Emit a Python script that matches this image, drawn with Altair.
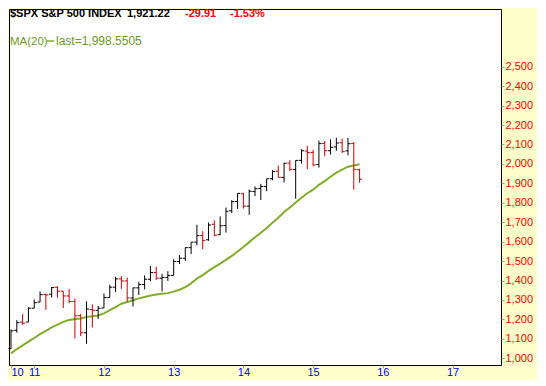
import altair as alt
import pandas as pd

# Monthly S&P 500 bars, Sep 2010 .. Sep 2015 (last bar partial)
months = [
    "2010-09", "2010-10", "2010-11", "2010-12",
    "2011-01", "2011-02", "2011-03", "2011-04", "2011-05", "2011-06",
    "2011-07", "2011-08", "2011-09", "2011-10", "2011-11", "2011-12",
    "2012-01", "2012-02", "2012-03", "2012-04", "2012-05", "2012-06",
    "2012-07", "2012-08", "2012-09", "2012-10", "2012-11", "2012-12",
    "2013-01", "2013-02", "2013-03", "2013-04", "2013-05", "2013-06",
    "2013-07", "2013-08", "2013-09", "2013-10", "2013-11", "2013-12",
    "2014-01", "2014-02", "2014-03", "2014-04", "2014-05", "2014-06",
    "2014-07", "2014-08", "2014-09", "2014-10", "2014-11", "2014-12",
    "2015-01", "2015-02", "2015-03", "2015-04", "2015-05", "2015-06",
    "2015-07", "2015-08", "2015-09",
]
opens = [
    1049.72, 1143.49, 1185.71, 1186.60,
    1257.62, 1289.14, 1328.64, 1329.48, 1365.21, 1345.20,
    1320.64, 1292.59, 1219.12, 1131.21, 1251.00, 1246.91,
    1258.86, 1312.45, 1365.90, 1408.47, 1397.86, 1309.87,
    1362.33, 1379.32, 1406.54, 1440.90, 1412.20, 1416.18,
    1426.19, 1498.11, 1514.68, 1569.18, 1597.55, 1631.71,
    1609.78, 1689.42, 1635.95, 1682.41, 1758.70, 1806.55,
    1845.86, 1782.68, 1857.68, 1873.96, 1884.39, 1923.87,
    1962.29, 1929.80, 2004.07, 1971.44, 2018.21, 2065.78,
    2058.90, 1996.67, 2105.23, 2067.63, 2087.38, 2108.64,
    2067.00, 2104.49, 1970.09,
]
highs = [
    1148.90, 1196.14, 1227.08, 1262.60,
    1302.67, 1344.07, 1332.28, 1366.61, 1370.58, 1345.20,
    1356.48, 1307.38, 1229.29, 1292.66, 1277.55, 1269.37,
    1333.47, 1378.04, 1419.15, 1422.38, 1415.32, 1363.46,
    1391.74, 1426.68, 1474.51, 1470.96, 1434.27, 1448.00,
    1509.94, 1530.94, 1570.28, 1597.57, 1687.18, 1654.19,
    1698.78, 1709.67, 1729.86, 1775.22, 1813.55, 1849.44,
    1850.84, 1867.92, 1883.97, 1897.28, 1924.03, 1968.17,
    1991.39, 2005.04, 2019.26, 2018.19, 2075.76, 2093.55,
    2072.36, 2119.59, 2117.52, 2125.92, 2134.72, 2129.87,
    2132.82, 2112.66, 1975.01,
]
lows = [
    1048.08, 1131.87, 1173.00, 1186.60,
    1257.62, 1289.14, 1249.05, 1312.70, 1311.80, 1258.07,
    1282.86, 1101.54, 1114.22, 1074.77, 1158.66, 1202.37,
    1258.86, 1312.45, 1340.03, 1357.38, 1291.98, 1266.74,
    1325.41, 1354.65, 1396.56, 1403.28, 1343.35, 1398.11,
    1426.19, 1485.01, 1501.48, 1536.03, 1581.28, 1560.33,
    1604.57, 1627.47, 1633.41, 1646.47, 1746.20, 1767.99,
    1770.45, 1737.92, 1834.44, 1814.36, 1859.79, 1915.98,
    1930.67, 1904.78, 1964.04, 1820.66, 2001.01, 1972.56,
    1988.12, 1980.90, 2039.69, 2048.38, 2067.93, 2056.32,
    2044.02, 1867.01, 1903.07,
]
closes = [
    1141.20, 1183.26, 1180.55, 1257.64,
    1286.12, 1327.22, 1325.83, 1363.61, 1345.20, 1320.64,
    1292.28, 1218.89, 1131.42, 1253.30, 1246.96, 1257.60,
    1312.41, 1365.68, 1408.47, 1397.91, 1310.33, 1362.16,
    1379.32, 1406.58, 1440.67, 1412.16, 1416.18, 1426.19,
    1498.11, 1514.68, 1569.19, 1597.57, 1630.74, 1606.28,
    1685.73, 1632.97, 1681.55, 1756.54, 1805.81, 1848.36,
    1782.59, 1859.45, 1872.34, 1883.95, 1923.57, 1960.23,
    1930.67, 2003.37, 1972.29, 2018.05, 2067.56, 2058.90,
    1994.99, 2104.50, 2067.89, 2085.51, 2107.39, 2063.11,
    2103.84, 1972.18, 1921.22,
]
ma20 = [
    1025.15, 1047.56, 1066.69, 1085.93,
    1104.28, 1124.68, 1141.60, 1158.75, 1173.15, 1187.37,
    1197.21, 1202.40, 1205.27, 1212.71, 1216.59, 1220.14,
    1231.29, 1248.03, 1263.38, 1280.81, 1289.26, 1298.21,
    1308.15, 1315.59, 1323.32, 1327.57, 1332.09, 1335.21,
    1342.86, 1352.56, 1366.41, 1385.34, 1410.31, 1427.96,
    1449.90, 1468.66, 1487.12, 1506.66, 1526.53, 1549.05,
    1572.67, 1597.53, 1622.18, 1646.05, 1670.20, 1697.60,
    1723.32, 1752.18, 1775.89, 1801.06, 1825.98, 1849.04,
    1867.26, 1892.17, 1911.28, 1933.90, 1955.20, 1970.52,
    1985.43, 1991.62, 1998.55,
]
year_tick_idx = [0, 4, 16, 28, 40, 52, 64, 76]
year_labels = ["10", "11", "12", "13", "14", "15", "16", "17"]
price_ticks = list(range(1000, 2501, 100))

n = len(months)
direction = ["up"] + ["down" if closes[k] < closes[k - 1] else "up" for k in range(1, n)]
df = pd.DataFrame({
    "i": list(range(n)), "month": months, "open": opens, "high": highs,
    "low": lows, "close": closes, "ma": ma20, "dir": direction,
})

FONT = "Liberation Sans"
label_map = "{" + ",".join(f"'{v}':'{t}'" for v, t in zip(year_tick_idx, year_labels)) + "}"

xs = alt.Scale(domain=[-0.344, 84.34], nice=False, zero=False)
ys = alt.Scale(domain=[965.5, 2796.8], nice=False, zero=False)
cs = alt.Scale(domain=["up", "down"], range=["#000000", "#cc0000"])

x_axis = alt.Axis(values=year_tick_idx, labelExpr=f"{label_map}[datum.value + '']",
                  orient="bottom", title=None, grid=False, domain=False,
                  tickSize=3, tickColor="#a0a0a0", labelColor="#0000ff",
                  labelFont=FONT, labelFontSize=11, labelPadding=-2, labelFlush=4,
                  labelOverlap=False)
y_axis = alt.Axis(values=price_ticks, format=",.0f", orient="right", title=None,
                  grid=False, domain=False, tickSize=3, tickColor="#a0a0a0",
                  labelColor="#ff0000", labelFont=FONT, labelFontSize=11,
                  labelPadding=1, labelOverlap=False)

base = alt.Chart(df)
X = alt.X("i:Q", scale=xs, axis=x_axis)
col = alt.Color("dir:N", scale=cs, legend=None)

ma_line = base.mark_line(color="#82ad2a", strokeWidth=2).encode(
    x=X, y=alt.Y("ma:Q", scale=ys, axis=y_axis),
)
hl = base.mark_rule(strokeWidth=1).encode(
    x=X, y=alt.Y("low:Q", scale=ys, axis=y_axis), y2="high:Q", color=col,
)
open_tick = base.mark_rule(strokeWidth=1, x2Offset=-2.6).encode(
    x=X, x2="i:Q", y=alt.Y("open:Q", scale=ys, axis=y_axis), color=col,
)
close_tick = base.mark_rule(strokeWidth=1, x2Offset=2.6).encode(
    x=X, x2="i:Q", y=alt.Y("close:Q", scale=ys, axis=y_axis), color=col,
)

one = alt.Data(values=[{}])


def label(txt, x, y, color, size=11, weight="normal"):
    return alt.Chart(one).mark_text(
        align="left", baseline="alphabetic", font=FONT, fontSize=size,
        fontWeight=weight, color=color,
    ).encode(x=alt.value(x), y=alt.value(y), text=alt.value(txt))


header = (
    label("$SPX S&P 500 INDEX", 1, 8, "#000000", 11, "bold")
    + label("1,921.22", 118, 8, "#000000", 11, "bold")
    + label("-29.91", 176, 8, "#ff0000", 11, "bold")
    + label("-1.53%", 221, 8, "#ff0000", 11, "bold")
    + label("MA(20)", 1, 36, "#6c9a1c", 11.5)
    + label("last=1,998.5505", 47, 36, "#6c9a1c", 12)
)
legend_line = alt.Chart(one).mark_rule(color="#82ad2a", strokeWidth=1.5).encode(
    x=alt.value(38), x2=alt.value(45), y=alt.value(32)
)

chart = alt.layer(ma_line, hl, open_tick, close_tick, header, legend_line).properties(
    width=492, height=356,
    autosize=alt.AutoSizeParams(type="none"),
    padding={"left": 1, "top": 1, "right": 36, "bottom": 15},
    background="#ffffcc",
).configure_view(fill="#ffffff", stroke="#000000", strokeWidth=1)

chart.save("out.html", embed_options={"renderer": "svg", "actions": False})
